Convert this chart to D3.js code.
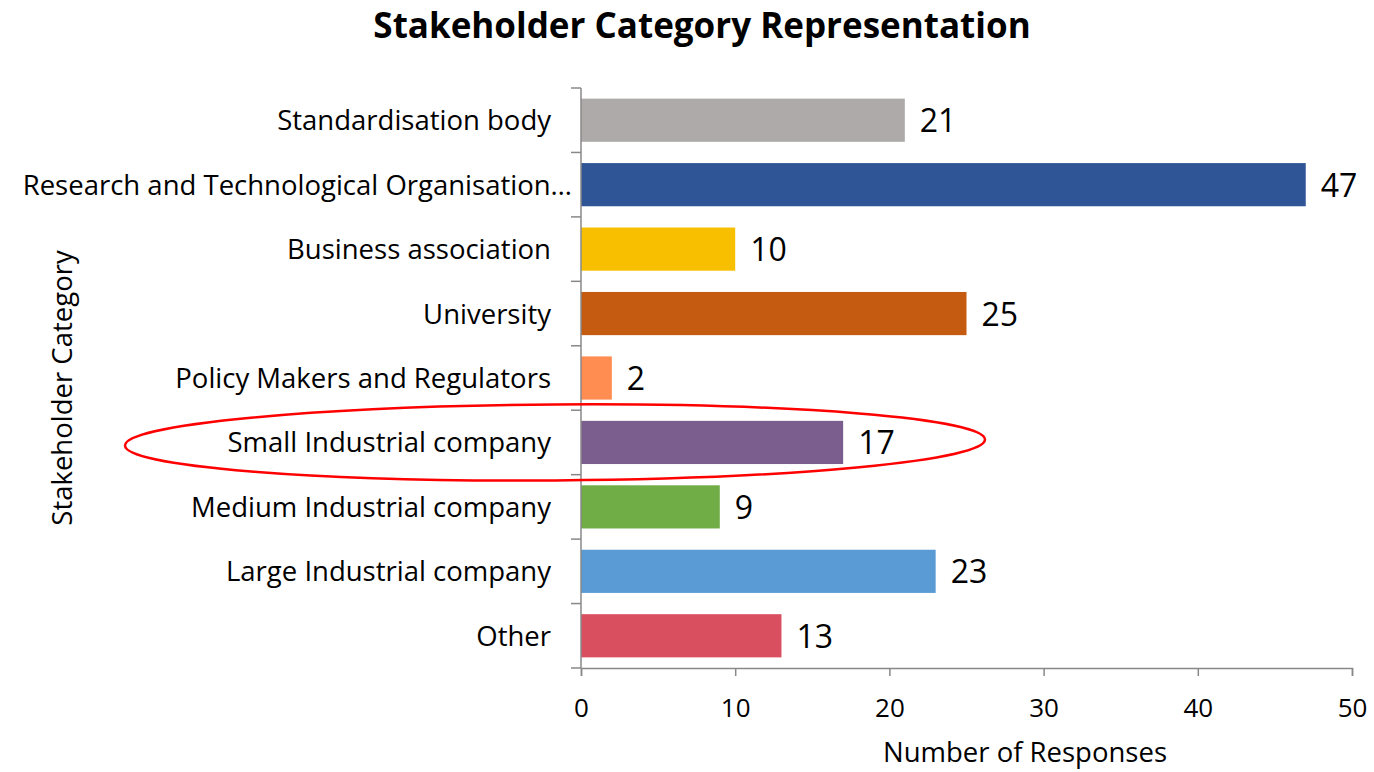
<!DOCTYPE html>
<html>
<head>
<meta charset="utf-8">
<script src="https://cdn.jsdelivr.net/npm/d3@7"></script>
<style>
  body { margin: 0; background: #fff; }
  text { font-family: "Open Sans", Lato, sans-serif; fill: #000; }
</style>
</head>
<body>
<div id="app"></div>
<script>
let categories = ['Standardisation body', 'Research and Technological Organisation…', 'Business association',
                  'University', 'Policy Makers and Regulators', 'Small Industrial company',
                  'Medium Industrial company', 'Large Industrial company', 'Other'];
let responses = [21, 47, 10, 25, 2, 17, 9, 23, 13];
let barColors = ['#adaaa9', '#2f5597', '#f8bf00', '#c55a11', '#ff8c50', '#7b5e8d', '#70ad47', '#5b9bd5', '#d94f5f'];
let xTicks = [0, 10, 20, 30, 40, 50];
let highlighted = 'Small Industrial company';

let width = 1374;
let height = 772;
let margin = { top: 88, right: 22, bottom: 104, left: 581 };

let svg = d3.select('#app').append('svg')
    .attr('width', width)
    .attr('height', height);

let xScale = d3.scaleLinear()
               .domain([0, 50])
               .range([margin.left, width - margin.right]);

let yScale = d3.scaleBand()
               .domain(categories)
               .range([margin.top, height - margin.bottom])
               .paddingInner(0.33)
               .paddingOuter(0.165);

// title
svg.append('text')
   .attr('x', 702)
   .attr('y', 38)
   .attr('text-anchor', 'middle')
   .style('font-size', '35px')
   .style('font-weight', 'bold')
   .text('Stakeholder Category Representation');

// bars
svg.selectAll('rect.bar')
   .data(responses)
   .enter()
   .append('rect')
     .attr('class', 'bar')
     .attr('x', xScale(0))
     .attr('y', (d, i) => yScale(categories[i]))
     .attr('width', d => xScale(d) - xScale(0))
     .attr('height', yScale.bandwidth())
     .style('fill', (d, i) => barColors[i]);

// value labels
svg.selectAll('text.val')
   .data(responses)
   .enter()
   .append('text')
     .attr('class', 'val')
     .attr('x', d => xScale(d) + 15)
     .attr('y', (d, i) => yScale(categories[i]) + yScale.bandwidth() / 2 + 12)
     .style('font-size', '32px')
     .text(d => d);

// x axis
let xAxis = svg.append('g')
   .attr('transform', `translate(0,${height - margin.bottom})`)
   .call(d3.axisBottom(xScale).tickValues(xTicks).tickSize(8).tickPadding(23));
xAxis.selectAll('text').style('font-size', '26px');

// y axis: ticks between categories like the reference
let bandStep = yScale.step();
let yAxis = svg.append('g').attr('transform', `translate(${margin.left},0)`);
yAxis.append('line')
     .attr('y1', margin.top).attr('y2', height - margin.bottom)
     .attr('stroke', '#888').attr('stroke-width', 1.5);
yAxis.selectAll('line.tick')
     .data(d3.range(categories.length + 1))
     .enter()
     .append('line')
       .attr('x1', -10).attr('x2', 0)
       .attr('y1', i => margin.top + i * bandStep)
       .attr('y2', i => margin.top + i * bandStep)
       .attr('stroke', '#888').attr('stroke-width', 1.5);
yAxis.selectAll('text.cat')
     .data(categories)
     .enter()
     .append('text')
       .attr('x', d => d.endsWith('…') ? -9 : -30)
       .attr('y', d => yScale(d) + yScale.bandwidth() / 2 + 10)
       .attr('text-anchor', 'end')
       .style('font-size', '27.5px')
       .text(d => d);

xAxis.select('.domain').attr('stroke', '#888').attr('stroke-width', 1.5);
xAxis.selectAll('.tick line').attr('stroke', '#888').attr('stroke-width', 1.5);

// axis titles
svg.append('text')
   .attr('x', 1025)
   .attr('y', 762)
   .attr('text-anchor', 'middle')
   .style('font-size', '27.5px')
   .text('Number of Responses');

svg.append('text')
   .attr('transform', 'translate(72,388) rotate(-90)')
   .attr('text-anchor', 'middle')
   .style('font-size', '27.5px')
   .text('Stakeholder Category');

// highlight ellipse
let hy = yScale(highlighted) + yScale.bandwidth() / 2;
svg.append('ellipse')
   .attr('cx', 555)
   .attr('cy', hy)
   .attr('rx', 430)
   .attr('ry', 38)
   .attr('transform', `rotate(-0.4,555,${hy})`)
   .attr('fill', 'none')
   .attr('stroke', '#ff0000')
   .attr('stroke-width', 2.5);
</script>
</body>
</html>
